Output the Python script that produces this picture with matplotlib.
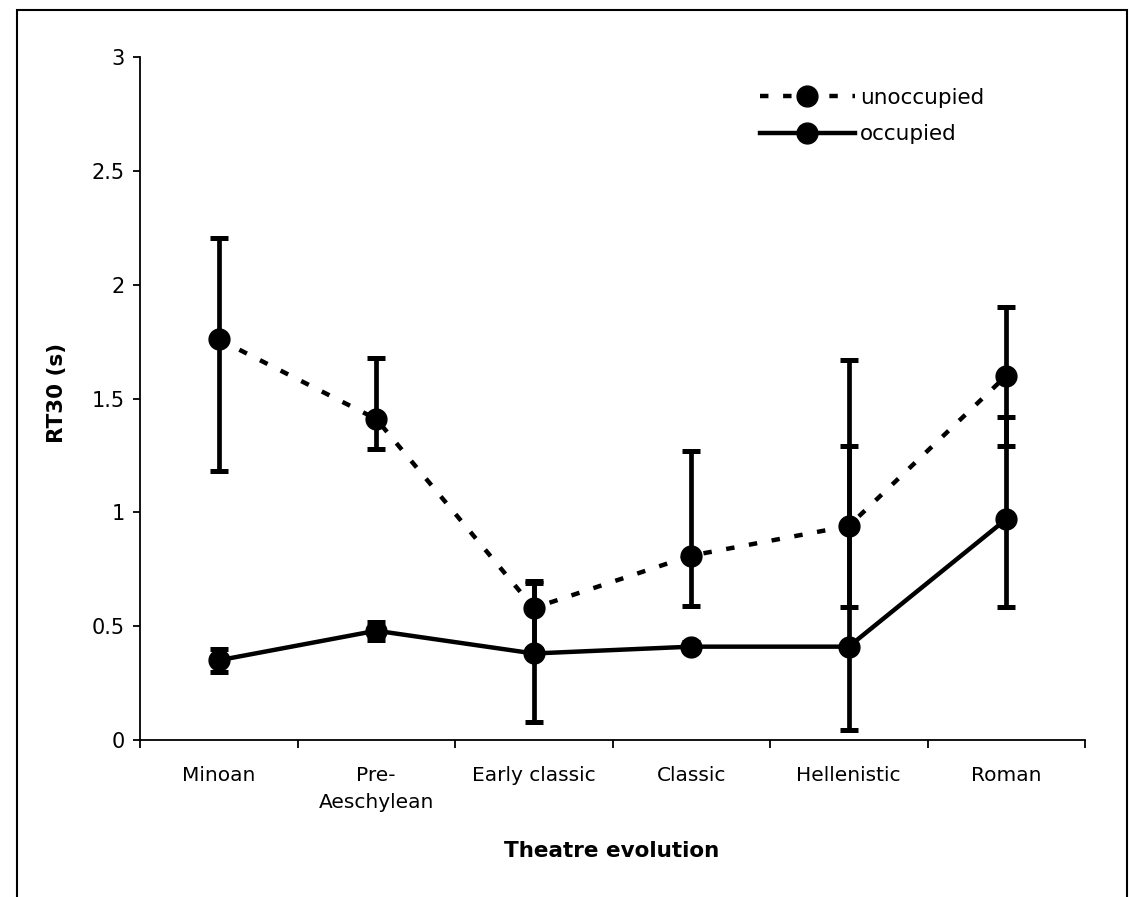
import matplotlib
matplotlib.use("Agg")
import matplotlib.pyplot as plt
from matplotlib.patches import Rectangle
from matplotlib.ticker import FixedLocator, FuncFormatter
import numpy as np

categories = ['Minoan', 'Pre-\nAeschylean', 'Early classic', 'Classic', 'Hellenistic', 'Roman']
unocc = [1.76, 1.41, 0.58, 0.81, 0.94, 1.60]
unocc_lo = [1.18, 1.28, 0.40, 0.59, 0.585, 1.29]
unocc_hi = [2.205, 1.68, 0.70, 1.27, 1.67, 1.90]
occ = [0.35, 0.48, 0.38, 0.41, 0.41, 0.97]
occ_lo = [0.30, 0.44, 0.08, 0.39, 0.045, 0.585]
occ_hi = [0.40, 0.52, 0.69, 0.43, 1.29, 1.42]
yticks = [0, 0.5, 1, 1.5, 2, 2.5, 3]

plt.rcParams['font.family'] = ['DejaVu Sans']

W, H = 1130, 897
fig = plt.figure(figsize=(W / 100, H / 100), dpi=100)
ax = fig.add_axes([140 / W, 1 - 740 / H, (1085 - 140) / W, (740 - 57) / H])

x = np.arange(len(categories))

def draw(vals, lo, hi, ls, label):
    v = np.array(vals)
    err = np.vstack([v - np.array(lo), np.array(hi) - v])
    ax.errorbar(x, v, yerr=err, fmt='none', ecolor='black', elinewidth=3.4,
                capsize=6.5, capthick=3.6, zorder=2)
    line, = ax.plot(x, v, color='black', linestyle=ls, linewidth=3.2,
                    marker='o', markersize=15, markerfacecolor='black',
                    markeredgecolor='black', label=label, zorder=3)
    return line

l1 = draw(unocc, unocc_lo, unocc_hi, (0, (1.9, 3.3)), 'unoccupied')
l2 = draw(occ, occ_lo, occ_hi, '-', 'occupied')

ax.set_xlim(-0.5, len(categories) - 0.5)
ax.set_ylim(0, 3)
ax.spines['top'].set_visible(False)
ax.spines['right'].set_visible(False)
for s in ['left', 'bottom']:
    ax.spines[s].set_linewidth(1.3)

ax.set_yticks(yticks)
ax.yaxis.set_major_formatter(FuncFormatter(lambda v, p: f'{v:g}'))
ax.tick_params(axis='y', direction='out', length=5, width=1.3, pad=6, labelsize=15)

ax.set_xticks(x)
ax.set_xticklabels(categories, fontsize=14.5, linespacing=1.5, va='top')
ax.tick_params(axis='x', which='major', length=0, pad=19)
ax.xaxis.set_minor_locator(FixedLocator(np.arange(-0.5, len(categories), 1.0)))
ax.tick_params(axis='x', which='minor', direction='out', length=6, width=1.3)

fig.text(612 / W, 1 - 851 / H, 'Theatre evolution', ha='center', va='center',
         fontsize=15.5, fontweight='bold')
fig.text(57 / W, 1 - 393 / H, 'RT30 (s)', ha='center', va='center',
         rotation=90, fontsize=15.5, fontweight='bold')

leg = fig.legend(handles=[l1, l2], loc='center left',
                 bbox_to_anchor=(760 / W, 1 - 116 / H), bbox_transform=fig.transFigure,
                 frameon=False, fontsize=15.5, handlelength=4.4, handletextpad=0.25,
                 labelspacing=0.75, borderpad=0, borderaxespad=0)

fig.patches.append(Rectangle((17 / W, -0.02), (1127 - 17) / W, (1 - 10 / H) + 0.02,
                             transform=fig.transFigure, fill=False,
                             edgecolor='black', linewidth=1.5, clip_on=False))

fig.savefig('out.png', dpi=100, facecolor='white')
